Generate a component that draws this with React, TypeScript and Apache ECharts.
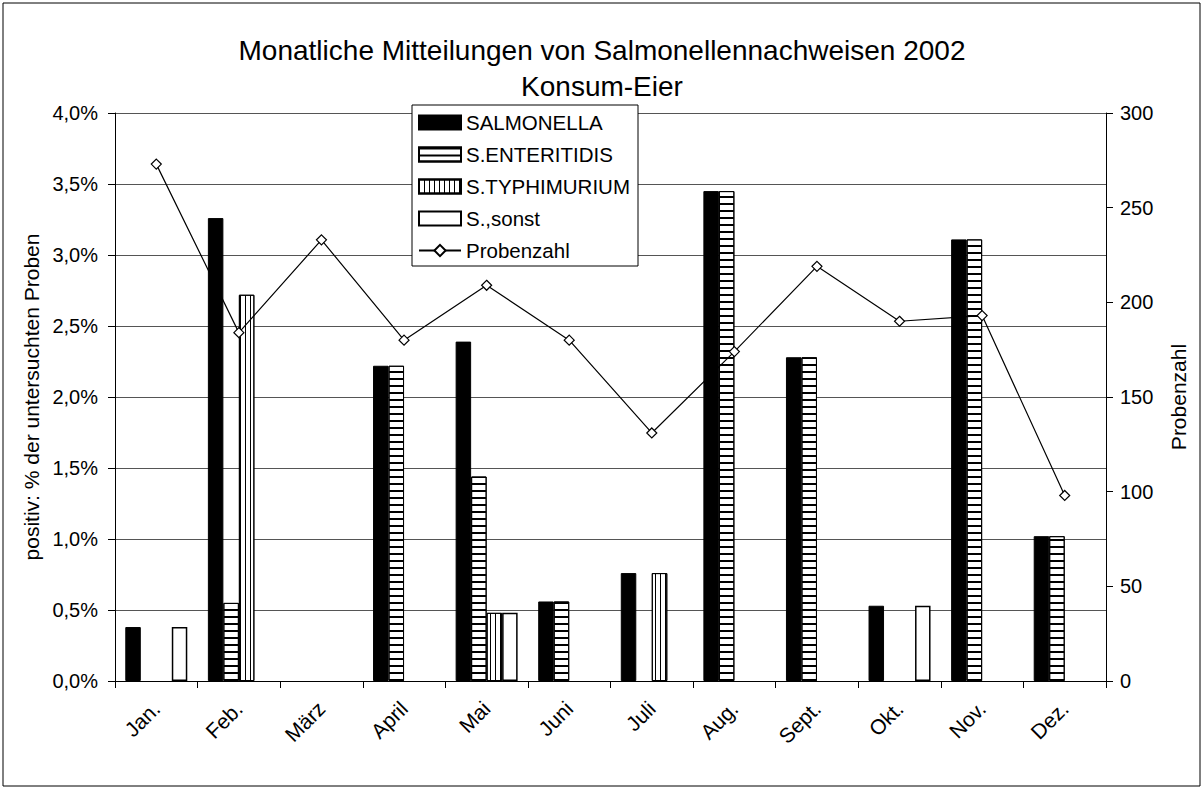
import React, { useEffect, useRef } from 'react';
import * as echarts from 'echarts';

const months = ['Jan.', 'Feb.', 'März', 'April', 'Mai', 'Juni', 'Juli', 'Aug.', 'Sept.', 'Okt.', 'Nov.', 'Dez.'];
const salmonella = [0.38, 3.26, null, 2.22, 2.39, 0.56, 0.76, 3.45, 2.28, 0.53, 3.11, 1.02];
const enteritidis = [null, 0.55, null, 2.22, 1.44, 0.56, null, 3.45, 2.28, null, 3.11, 1.02];
const typhimurium = [null, 2.72, null, null, 0.48, null, 0.76, null, null, null, null, null];
const sonst = [0.38, null, null, null, 0.48, null, null, null, null, 0.53, null, null];
const probenzahl = [273, 184, 233, 180, 209, 180, 131, 174, 219, 190, 193, 98];

const FONT = 'Liberation Sans, Arial, sans-serif';

export default function App() {
  const ref = useRef<HTMLDivElement>(null);
  useEffect(() => {
    if (!ref.current) return;
    const chart = echarts.init(ref.current, undefined, { renderer: 'svg' });
    const barBase = {
      type: 'bar',
      barWidth: 15.5,
      barGap: '0%',
      yAxisIndex: 0,
    };
    chart.setOption({
      animation: false,
      backgroundColor: '#fff',
      textStyle: { fontFamily: FONT, color: '#000' },
      title: {
        text: 'Monatliche Mitteilungen von Salmonellennachweisen 2002\nKonsum-Eier',
        left: 'center',
        top: 27,
        textStyle: { fontFamily: FONT, fontSize: 28, fontWeight: 'normal', color: '#000', lineHeight: 36 },
      },
      graphic: [
        {
          type: 'rect',
          shape: { x: 3, y: 3, width: 1197, height: 783 },
          style: { fill: 'none', stroke: '#000', lineWidth: 1 },
          silent: true,
          z: -1,
        },
      ],
      legend: {
        left: 412,
        top: 105,
        orient: 'vertical',
        backgroundColor: '#fff',
        borderColor: '#000',
        borderWidth: 1,
        borderRadius: 0,
        padding: [7, 8, 5, 6],
        itemWidth: 42,
        itemHeight: 14,
        itemGap: 11,
        textStyle: { fontFamily: FONT, fontSize: 20.5, color: '#000' },
        data: [
          { name: 'SALMONELLA', icon: 'rect' },
          { name: 'S.ENTERITIDIS', icon: 'rect' },
          { name: 'S.TYPHIMURIUM', icon: 'rect' },
          { name: 'S.,sonst', icon: 'rect' },
          { name: 'Probenzahl' },
        ],
        z: 10,
      },
      grid: { left: 115, right: 98, top: 113, bottom: 109 },
      xAxis: {
        type: 'category',
        data: months,
        axisLine: { lineStyle: { color: '#000', width: 1 } },
        axisTick: { show: true, length: 7, lineStyle: { color: '#000' } },
        axisLabel: { rotate: 45, color: '#000', fontSize: 21, fontFamily: FONT, margin: 24 },
      },
      yAxis: [
        {
          type: 'value',
          min: 0,
          max: 4,
          interval: 0.5,
          position: 'left',
          name: 'positiv: % der untersuchten Proben',
          nameLocation: 'middle',
          nameGap: 68,
          nameTextStyle: { fontFamily: FONT, fontSize: 21, color: '#000' },
          axisLine: { show: true, lineStyle: { color: '#000' } },
          axisTick: { show: true, length: 7, lineStyle: { color: '#000' } },
          axisLabel: {
            color: '#000',
            fontSize: 20,
            fontFamily: FONT,
            margin: 17,
            formatter: (v: number) => v.toFixed(1).replace('.', ',') + '%',
          },
          splitLine: { show: true, lineStyle: { color: '#555', width: 1 } },
        },
        {
          type: 'value',
          min: 0,
          max: 300,
          interval: 50,
          position: 'right',
          name: 'Probenzahl',
          nameLocation: 'middle',
          nameGap: 62,
          nameRotate: 90,
          nameTextStyle: { fontFamily: FONT, fontSize: 21, color: '#000' },
          axisLine: { show: true, lineStyle: { color: '#000' } },
          axisTick: { show: true, length: 7, lineStyle: { color: '#000' } },
          axisLabel: { color: '#000', fontSize: 20, fontFamily: FONT, margin: 14 },
          splitLine: { show: false },
        },
      ],
      series: [
        {
          ...barBase,
          name: 'SALMONELLA',
          data: salmonella,
          itemStyle: { color: '#000', borderColor: '#000', borderWidth: 1 },
        },
        {
          ...barBase,
          name: 'S.ENTERITIDIS',
          data: enteritidis,
          itemStyle: {
            color: '#fff',
            borderColor: '#000',
            borderWidth: 1,
            decal: {
              symbol: 'rect',
              symbolSize: 1,
              symbolKeepAspect: false,
              color: '#000',
              backgroundColor: '#fff',
              dashArrayX: [20, 0],
              dashArrayY: [1.2, 4.8],
              rotation: 0,
            },
          },
        },
        {
          ...barBase,
          name: 'S.TYPHIMURIUM',
          data: typhimurium,
          itemStyle: {
            color: '#fff',
            borderColor: '#000',
            borderWidth: 1,
            decal: {
              symbol: 'rect',
              symbolSize: 1,
              symbolKeepAspect: false,
              color: '#000',
              backgroundColor: '#fff',
              dashArrayX: [1, 4],
              dashArrayY: [20, 0],
              rotation: 0,
            },
          },
        },
        {
          ...barBase,
          name: 'S.,sonst',
          data: sonst,
          itemStyle: { color: '#fff', borderColor: '#000', borderWidth: 1.5 },
        },
        {
          type: 'line',
          name: 'Probenzahl',
          yAxisIndex: 1,
          data: probenzahl,
          symbol: 'diamond',
          symbolSize: 10,
          showAllSymbol: true,
          lineStyle: { color: '#000', width: 1.2 },
          itemStyle: { color: '#fff', borderColor: '#000', borderWidth: 1.2 },
          z: 5,
        },
      ],
    });
    return () => chart.dispose();
  }, []);
  return (
    <div
      ref={ref}
      style={{ position: 'absolute', left: 0, top: 0, width: 1204, height: 790, background: '#fff' }}
    />
  );
}
